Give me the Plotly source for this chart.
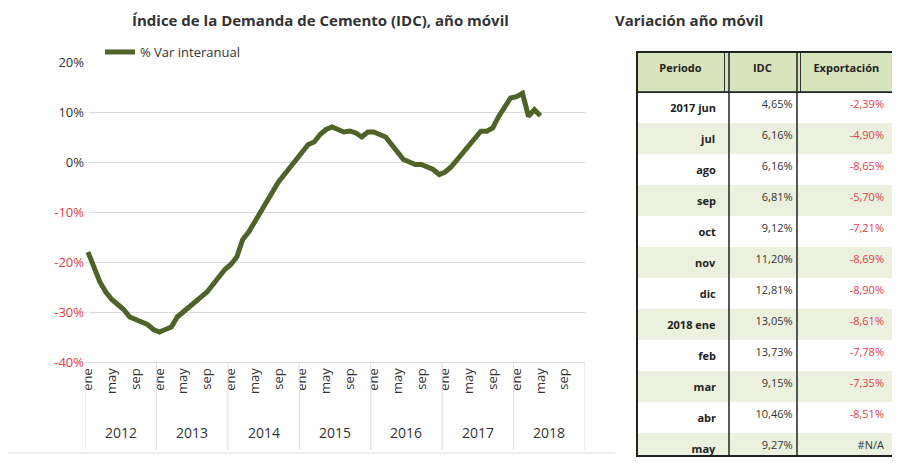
import plotly.graph_objects as go

# monthly rolling-year % change, ene 2012 .. may 2018
idc_var = [
    -18, -21, -24, -26, -27.5, -28.5, -29.5, -31, -31.5, -32, -32.5, -33.5,
    -34, -33.5, -33, -31, -30, -29, -28, -27, -26, -24.5, -23, -21.5,
    -20.5, -19, -15.5, -14, -12, -10, -8, -6, -4, -2.5, -1, 0.5,
    2, 3.5, 4, 5.5, 6.5, 7, 6.5, 6, 6.2, 5.8, 5, 6,
    6, 5.5, 5, 3.5, 2, 0.5, 0, -0.5, -0.5, -1, -1.5, -2.5,
    -2, -1, 0.5, 2, 3.5, 4.65, 6.16, 6.16, 6.81, 9.12, 11.2, 12.81,
    13.05, 13.73, 9.15, 10.46, 9.27,
]
years = ["2012", "2013", "2014", "2015", "2016", "2017", "2018"]
month_ticks = ["ene", "may", "sep"]

periodo = ["2017 jun", "jul", "ago", "sep", "oct", "nov", "dic",
           "2018 ene", "feb", "mar", "abr", "may"]
idc = ["4,65%", "6,16%", "6,16%", "6,81%", "9,12%", "11,20%", "12,81%",
       "13,05%", "13,73%", "9,15%", "10,46%", "9,27%"]
export = ["-2,39%", "-4,90%", "-8,65%", "-5,70%", "-7,21%", "-8,69%", "-8,90%",
          "-8,61%", "-7,78%", "-7,35%", "-8,51%", "#N/A"]

green = "#4f6228"
red = "#e0404a"
font = "Open Sans"
W, H = 900, 471


# page pixel -> paper fraction (page body has an 8px margin)
def px(x):
    return (x - 8) / W


def py(y):
    return 1 - (y - 8) / H


fig = go.Figure()
fig.add_trace(go.Scatter(x=list(range(len(idc_var))), y=idc_var, mode="lines",
                         line=dict(color=green, width=5), name="% Var interanual"))

tickvals, ticktext = [], []
for i, y in enumerate(years):
    for j, m in enumerate(month_ticks):
        tickvals.append(i * 12 + j * 4)
        ticktext.append(m)

yvals = [20, 10, 0, -10, -20, -30, -40]
ytext = [f"<span style='color:{red}'>{v}%</span>" if v < 0 else f"{v}%" for v in yvals]

fig.add_trace(go.Table(
    domain=dict(x=[px(637), px(893)], y=[py(456), py(52)]),
    columnwidth=[1, 0.88, 1.05],
    header=dict(values=["<b>Periodo</b>", "<b>IDC</b>", "<b>Exportación</b>"],
                fill_color="#d8e4bc", line_color="#333", align="center",
                font=dict(size=11, color="#222", family=font), height=40),
    cells=dict(values=[["<b>%s</b>" % p for p in periodo], idc, export],
               fill_color=[["white" if k % 2 == 0 else "#ebf1de" for k in range(12)]] * 3,
               line_color="rgba(0,0,0,0)", align="right",
               font=dict(size=11, color=[["#222"] * 12, ["#333"] * 12,
                                         [red] * 11 + ["#333"]], family=font),
               height=30),
))

annotations = [dict(text="<b>Variación año móvil</b>", x=px(765), y=py(20), xref="paper", yref="paper",
                    yanchor="middle", showarrow=False, font=dict(size=15, color="#333")),
               dict(text="<b>Índice de la Demanda de Cemento (IDC), año móvil</b>", x=px(320),
                    y=py(20), yanchor="middle", xref="paper", yref="paper", showarrow=False,
                    font=dict(size=15, color="#333"))]
shapes = [dict(type="rect", xref="paper", yref="paper", x0=px(637), x1=px(893),
               y0=py(456), y1=py(52), line=dict(color="#222", width=2)),
          dict(type="line", xref="paper", yref="paper", x0=px(637), x1=px(893),
               y0=py(92), y1=py(92), line=dict(color="#222", width=1.5))]
for xx in [729, 797]:
    shapes.append(dict(type="line", xref="paper", yref="paper", x0=px(xx), x1=px(xx),
                       y0=py(456), y1=py(52), line=dict(color="#222", width=1.5)))
for i, y in enumerate(years):
    annotations.append(dict(text=y, x=i * 12 + 5.5, y=py(432), xref="x", yref="paper",
                            yanchor="middle", showarrow=False, font=dict(size=14, color="#333")))
    shapes.append(dict(type="line", xref="x", yref="paper", x0=i * 12 - 0.5, x1=i * 12 - 0.5,
                       y0=py(362), y1=py(450), line=dict(color="#ddd", width=1)))
shapes.append(dict(type="line", xref="x", yref="paper", x0=83.5, x1=83.5,
                   y0=py(362), y1=py(450), line=dict(color="#ddd", width=1)))
shapes.append(dict(type="line", xref="paper", yref="paper", x0=0, x1=px(615),
                   y0=py(453), y1=py(453), line=dict(color="#ddd", width=1)))

fig.update_layout(
    width=W, height=H, autosize=False, paper_bgcolor="white", plot_bgcolor="white",
    margin=dict(l=0, r=0, t=0, b=0, pad=0, autoexpand=False),
    font=dict(family=font, size=13, color="#333"),
    xaxis=dict(domain=[px(85), px(585)], range=[-0.5, 83.5], tickvals=tickvals,
               ticktext=ticktext, tickangle=-90, automargin=False,
               showgrid=False, showline=True, linecolor="#ddd", ticks="",
               tickfont=dict(size=13)),
    yaxis=dict(domain=[py(362), py(62)], range=[-40, 20], tickvals=yvals,
               ticktext=ytext, gridcolor="#d9d9d9", zeroline=False, ticks="",
               automargin=False, tickfont=dict(size=13)),
    showlegend=True,
    legend=dict(x=px(100), y=py(52), yanchor="middle", bgcolor="rgba(0,0,0,0)",
                font=dict(size=13)),
    annotations=annotations, shapes=shapes,
)
fig.write_html("out.html")
